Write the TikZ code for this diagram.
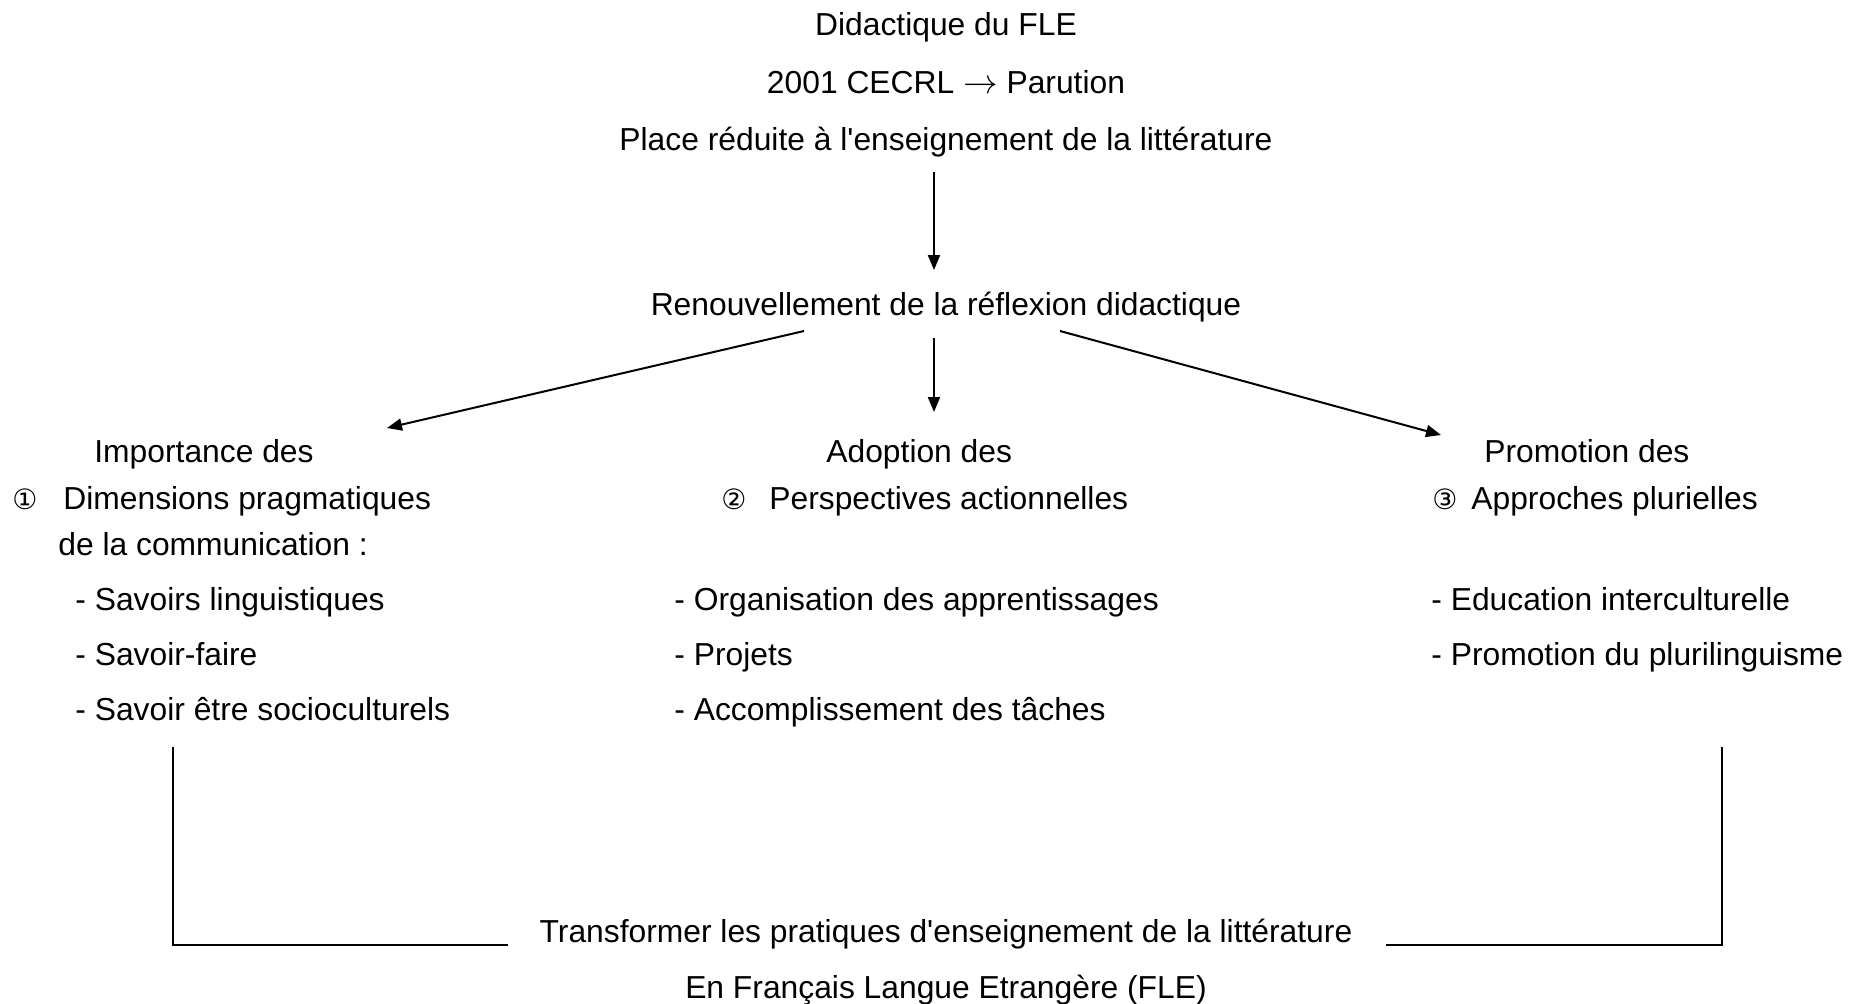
\documentclass[tikz,border=0pt]{standalone}
\usepackage{fontspec}
\setmainfont{Liberation Sans}
\newfontfamily\symfont{DejaVu Sans}
\usetikzlibrary{arrows.meta,calc}
\newcommand{\circnum}[2]{\makebox[#1][l]{\symfont\fontsize{14}{17}\selectfont #2}}
\newcommand{\apos}{\textquotesingle}
\begin{document}
\begin{tikzpicture}[x=0.5pt,y=-0.5pt,
  every node/.style={inner sep=0pt, font=\fontsize{15.9}{19}\selectfont},
  lft/.style={anchor=base west},
  ctr/.style={anchor=base},
  arr/.style={-{Triangle[length=7.5pt,width=6pt]}, line width=1pt},
  frame/.style={line width=0.8pt}]
\useasboundingbox[fill=white] (0,0) rectangle (1860,1003);

% header
\node[ctr] (title) at (946,35) {Didactique du FLE};
\node[ctr] (cecrl) at (946,93) {2001 CECRL $\rightarrow$ Parution};
\node[ctr] (place) at (946,150) {Place réduite à l\apos enseignement de la littérature};
\node[ctr] (renouv) at (946,315) {Renouvellement de la réflexion didactique};

% column 1
\node[lft] (imp) at (94,462) {Importance des};
\node[lft] (dim) at (12,509) {\circnum{25.5pt}{①}Dimensions pragmatiques};
\node[lft] (com) at (58,555) {de la communication :};
\node[lft] (s1) at (75,610) {- Savoirs linguistiques};
\node[lft] (s2) at (75,665) {- Savoir-faire};
\node[lft] (s3) at (75,720) {- Savoir être socioculturels};

% column 2
\node[lft] (ado) at (826,462) {Adoption des};
\node[lft] (persp) at (721,509) {\circnum{24pt}{②}Perspectives actionnelles};
\node[lft] (o1) at (674,610) {- Organisation des apprentissages};
\node[lft] (o2) at (674,665) {- Projets};
\node[lft] (o3) at (674,720) {- Accomplissement des tâches};

% column 3
\node[lft] (promo) at (1484,462) {Promotion des};
\node[lft] (appr) at (1432,509) {\circnum{19.5pt}{③}Approches plurielles};
\node[lft] (e1) at (1431,610) {- Education interculturelle};
\node[lft] (e2) at (1431,665) {- Promotion du plurilinguisme};

% conclusion
\node[ctr] (trans) at (946,942) {Transformer les pratiques d\apos enseignement de la littérature};
\node[ctr] (fle) at (946,998) {En Français Langue Etrangère (FLE)};

% arrows
\draw[arr] ($(place.base)+(-12,22)$) -- ($(renouv.base)+(-12,-45)$);
\draw[arr] ($(renouv.base)+(-142,16)$) -- ($(imp.base west)+(293,-34)$);
\draw[arr] ($(renouv.base)+(-12,23)$) -- ($(ado.base west)+(108,-50)$);
\draw[arr] ($(renouv.base)+(114,16)$) -- ($(promo.base west)+(-43,-27)$);

% bracket joining the columns to the conclusion
\coordinate (lt) at (173,747);
\coordinate (rt) at (1722,747);
\draw[frame] (lt) |- ($(trans.base west)+(-31,3)$);
\draw[frame] (rt) |- ($(trans.base east)+(33,3)$);
\end{tikzpicture}
\end{document}
